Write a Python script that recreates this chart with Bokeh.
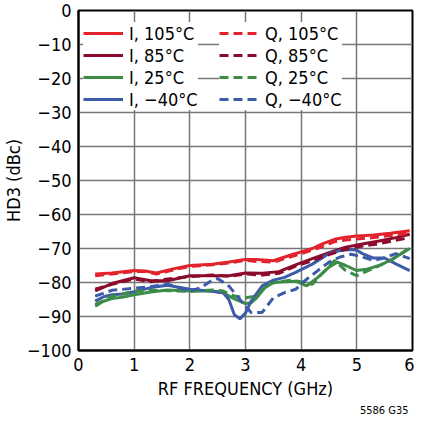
from bokeh.plotting import figure
from bokeh.models import Legend, LegendItem, FixedTicker, Title
from bokeh.embed import file_html
from bokeh.resources import INLINE

FONT = "'DejaVu Sans Condensed', 'Open Sans', sans-serif"

# ---- data ----
x_ticks = [0, 1, 2, 3, 4, 5, 6]
y_ticks = [0, -10, -20, -30, -40, -50, -60, -70, -80, -90, -100]

i105_x = [0.3, 0.6, 1.0, 1.2, 1.4, 1.7, 2.0, 2.4, 2.7, 3.0, 3.2, 3.5, 3.8, 4.0, 4.2, 4.4, 4.6, 4.8, 5.0, 5.3, 5.6, 5.95]
i105_y = [-77.5, -77.2, -76.5, -76.6, -77.2, -76, -75, -74.6, -74, -73.2, -73.2, -73.6, -72, -71, -70, -68.5, -67.3, -66.7, -66.3, -66, -65.5, -64.8]
q105_x = [0.3, 0.6, 1.0, 1.2, 1.4, 1.7, 2.0, 2.4, 2.7, 3.0, 3.2, 3.5, 3.8, 4.0, 4.2, 4.4, 4.6, 4.8, 5.0, 5.3, 5.6, 5.95]
q105_y = [-78, -77.5, -76.8, -76.8, -77.5, -76.3, -75.3, -74.8, -74.3, -73.5, -73.8, -74, -72.5, -71.5, -70.5, -69.3, -68, -67.5, -67.2, -66.8, -66.2, -65.5]

i85_x = [0.3, 0.6, 1.0, 1.3, 1.6, 2.0, 2.4, 2.7, 3.0, 3.3, 3.6, 3.9, 4.2, 4.5, 4.8, 5.1, 5.4, 5.7, 5.95]
i85_y = [-82.5, -80.3, -78.6, -79.5, -79.5, -78, -78, -78, -77.2, -77.3, -76.8, -74.8, -73, -71.2, -69.6, -68.7, -67.8, -66.8, -65.8]
q85_x = [0.3, 0.6, 1.0, 1.3, 1.6, 2.0, 2.4, 2.7, 3.0, 3.3, 3.6, 3.9, 4.2, 4.5, 4.8, 5.1, 5.4, 5.7, 5.95]
q85_y = [-82, -80.5, -79, -79.8, -79, -78.3, -77.8, -78.2, -77.5, -77.8, -77.3, -75.2, -73.6, -71.8, -70.2, -69.3, -68.6, -67.6, -66.8]

i25_x = [0.3, 0.45, 0.6, 0.8, 1.0, 1.3, 1.6, 2.0, 2.4, 2.6, 2.8, 3.0, 3.1, 3.2, 3.35, 3.5, 3.7, 3.9, 4.1, 4.3, 4.5, 4.65, 4.8, 5.0, 5.2, 5.4, 5.6, 5.8, 5.95]
i25_y = [-87, -85.5, -84.7, -84.3, -83.6, -82.8, -82.2, -82.5, -82.5, -83, -84.8, -86.2, -86, -84.5, -81.5, -80, -79.8, -79.6, -81, -78.5, -75.5, -74, -75, -76.5, -76, -75, -73.5, -71.5, -70]
q25_x = [0.3, 0.6, 1.0, 1.3, 1.6, 2.0, 2.4, 2.6, 2.8, 3.0, 3.2, 3.4, 3.6, 3.8, 4.0, 4.2, 4.4, 4.6, 4.8, 5.0, 5.3, 5.6, 5.95]
q25_y = [-86.5, -84, -82.6, -82.3, -82.4, -82.6, -82.2, -82.5, -84, -84.5, -84, -80.5, -79.8, -79.3, -79.8, -80.5, -77, -73.5, -76.5, -78, -75.8, -73.6, -69.8]

im40_x = [0.3, 0.45, 0.6, 0.8, 1.0, 1.3, 1.6, 2.0, 2.4, 2.6, 2.7, 2.8, 2.9, 3.0, 3.1, 3.3, 3.5, 3.7, 3.9, 4.2, 4.5, 4.7, 4.9, 5.0, 5.1, 5.3, 5.5, 5.7, 5.95]
im40_y = [-85.5, -84.2, -83.6, -83.4, -82.7, -81.5, -80.8, -82, -82.6, -83, -85, -89.5, -90.7, -89, -85.5, -81, -79.3, -78.5, -77, -74.6, -71.5, -70.6, -70.3, -70.5, -71.5, -72.8, -72.8, -74.5, -76.5]
qm40_x = [0.3, 0.6, 1.0, 1.3, 1.6, 2.0, 2.2, 2.4, 2.5, 2.7, 2.9, 3.1, 3.3, 3.5, 3.7, 3.9, 4.1, 4.3, 4.5, 4.7, 4.9, 5.1, 5.3, 5.5, 5.7, 5.95]
qm40_y = [-84, -82.3, -81.7, -81.2, -80.5, -82.5, -81.5, -79.3, -78.8, -81, -85, -88.8, -88.8, -84.5, -83, -82, -79, -76.5, -74, -72.5, -71.7, -72.5, -73.5, -72.7, -71.5, -73]

RED = "#E3232C"
MAROON = "#8C0B2C"
GREEN = "#3C8C47"
BLUE = "#3E5BA9"

p = figure(width=414, height=416, x_range=(0, 6), y_range=(-100, 0),
           output_backend="svg", toolbar_location=None,
           min_border_left=70, min_border_right=2, min_border_top=10, min_border_bottom=0)
p.background_fill_color = "white"
p.border_fill_color = "white"
p.outline_line_color = "black"
p.outline_line_width = 2

p.xaxis.ticker = FixedTicker(ticks=x_ticks)
p.yaxis.ticker = FixedTicker(ticks=y_ticks)
p.yaxis.major_label_overrides = {t: ("0" if t == 0 else "\u2212" + str(abs(t))) for t in y_ticks}
for ax in (p.xaxis[0], p.yaxis[0]):
    ax.axis_line_color = "black"
    ax.axis_line_width = 2
    ax.major_tick_in = 0
    ax.major_tick_out = 0
    ax.minor_tick_line_color = None
    ax.major_label_text_font = FONT
    ax.major_label_text_font_size = "18px"
    ax.major_label_text_color = "black"
    ax.axis_label_text_font = FONT
    ax.axis_label_text_font_size = "18px"
    ax.axis_label_text_font_style = "normal"
    ax.axis_label_text_color = "black"
p.xaxis.axis_label = "RF FREQUENCY (GHz)"
p.yaxis.axis_label = "HD3 (dBc)"
p.xaxis.major_label_standoff = 7
p.xaxis.axis_label_standoff = 4
p.yaxis.major_label_standoff = 7
p.yaxis.axis_label_standoff = 0

p.grid.grid_line_color = "#777777"
p.grid.grid_line_width = 1.5

LW = 3
DASH = "9 5"
r_i105 = p.line(i105_x, i105_y, line_color=RED, line_width=LW)
r_i85 = p.line(i85_x, i85_y, line_color=MAROON, line_width=LW)
r_i25 = p.line(i25_x, i25_y, line_color=GREEN, line_width=LW)
r_im40 = p.line(im40_x, im40_y, line_color=BLUE, line_width=LW)
r_q105 = p.line(q105_x, q105_y, line_color=RED, line_width=LW, line_dash=DASH)
r_q85 = p.line(q85_x, q85_y, line_color=MAROON, line_width=LW, line_dash=DASH)
r_q25 = p.line(q25_x, q25_y, line_color=GREEN, line_width=LW, line_dash=DASH)
r_qm40 = p.line(qm40_x, qm40_y, line_color=BLUE, line_width=LW, line_dash=DASH)

def make_legend(items, loc):
    lg = Legend(items=items, location=loc)
    lg.background_fill_color = "white"
    lg.background_fill_alpha = 1.0
    lg.border_line_color = None
    lg.label_text_font = FONT
    lg.label_text_font_size = "18px"
    lg.label_text_color = "black"
    lg.glyph_width = 40
    lg.glyph_height = 22
    lg.label_height = 22
    lg.label_standoff = 6
    lg.spacing = 0
    lg.padding = 5
    lg.margin = 0
    return lg

legL = make_legend([
    LegendItem(label="I, 105°C", renderers=[r_i105]),
    LegendItem(label="I, 85°C", renderers=[r_i85]),
    LegendItem(label="I, 25°C", renderers=[r_i25]),
    LegendItem(label="I, \u221240°C", renderers=[r_im40]),
], (5, 240))
legR = make_legend([
    LegendItem(label="Q, 105°C", renderers=[r_q105]),
    LegendItem(label="Q, 85°C", renderers=[r_q85]),
    LegendItem(label="Q, 25°C", renderers=[r_q25]),
    LegendItem(label="Q, \u221240°C", renderers=[r_qm40]),
], (141, 240))
p.add_layout(legL, "center")
p.add_layout(legR, "center")

note = Title(text="5586 G35", align="right", text_font=FONT, text_font_size="11px",
             text_font_style="normal", text_color="black", standoff=0, offset=4,
             text_line_height=0.8)
p.add_layout(note, "below")

open("out.html", "w").write(file_html(p, INLINE))
